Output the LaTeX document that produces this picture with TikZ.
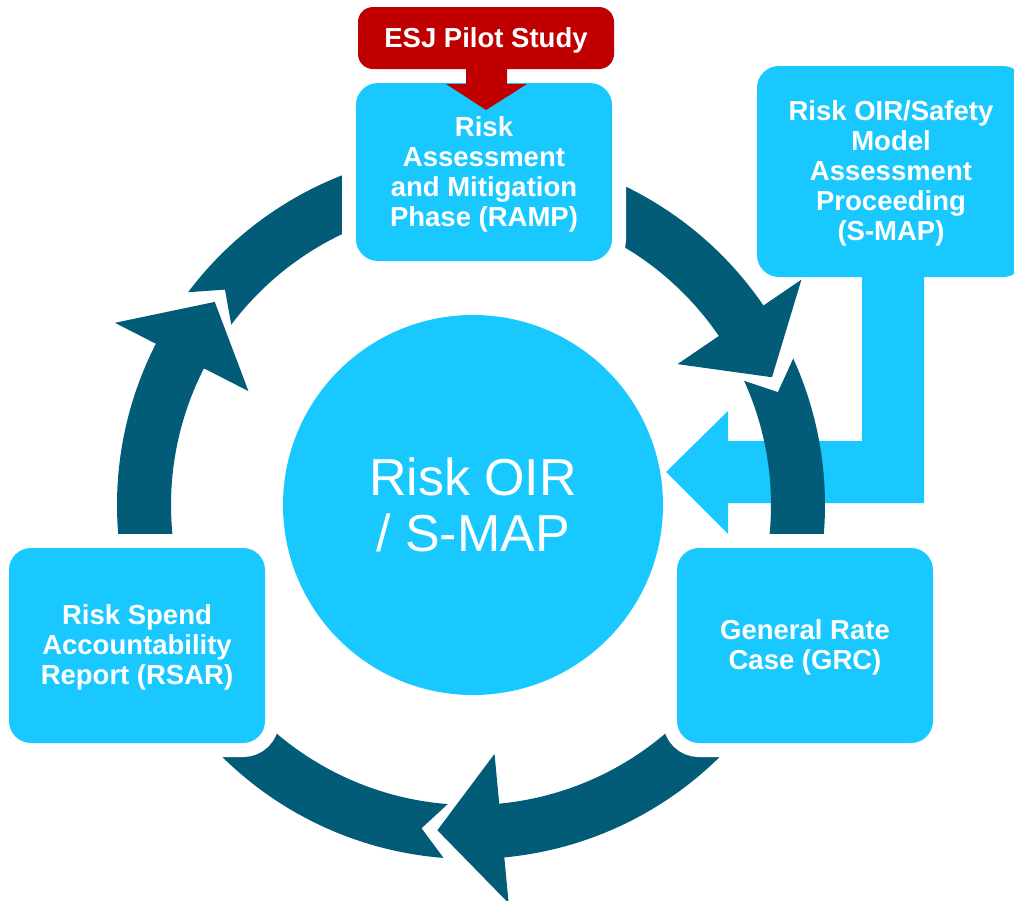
\documentclass[tikz,border=0pt]{standalone}
\usepackage{fontspec}
\setmainfont{Liberation Sans}
\definecolor{lblue}{RGB}{24,200,254}
\definecolor{dteal}{RGB}{2,92,120}
\definecolor{esjred}{RGB}{192,0,0}
\newcommand{\topstrut}{\rule{0pt}{24pt}}
\begin{document}
\begin{tikzpicture}[x=1pt,y=-1pt,
  boxtext/.style={text=white, align=center, font=\bfseries\fontsize{27.5}{30}\selectfont},
  bluebox/.style={rectangle, fill=lblue, rounded corners=22pt, inner sep=0pt, boxtext},
  whiteedge/.style={preaction={draw=white, line width=28pt}},
  ring/.style={fill=dteal}
]
\clip (0,0) rectangle (1014,900);
\useasboundingbox (0,0) rectangle (1014,900);

% S-MAP box
\node[bluebox, minimum width=268pt, minimum height=211pt] (smap) at (891,171.5)
  {\topstrut Risk OIR/Safety\\Model\\Assessment\\Proceeding\\(S-MAP)};

% light blue L-shaped arrow from S-MAP to the centre
\coordinate (ltip) at (666,472);
\fill[lblue] (862,270) -- (924,270) -- (924,503) -- (728,503) -- (728,534)
  -- (ltip) -- (728,411) -- (728,441) -- (862,441) -- cycle;

% ring of dark arrows
\begin{scope}[shift={(471,505)}, yscale=-1]
  % A: top right, arrow head
  \fill[ring] (80:354) arc[start angle=80, end angle=34.3, radius=354]
    -- (34.3:400) -- (23:327) -- (34.3:250) -- (34.3:300)
    arc[start angle=34.3, end angle=80, radius=300] -- cycle;
  % B: right, notched tail
  \fill[ring] (24.45:354) -- (20.2:327) -- (24.45:300)
    arc[start angle=24.45, end angle=-15, radius=300] -- (-15:354)
    arc[start angle=-15, end angle=24.45, radius=354] -- cycle;
  % C: bottom, arrow head
  \fill[ring] (-20:354) arc[start angle=-20, end angle=-84.6, radius=354]
    -- (-84.6:400) -- (-95.9:327) -- (-84.6:250) -- (-84.6:300)
    arc[start angle=-84.6, end angle=-20, radius=300] -- cycle;
  % D: bottom left, notched tail
  \fill[ring] (-94.45:354) -- (-98.7:327) -- (-94.45:300)
    arc[start angle=-94.45, end angle=-160, radius=300] -- (-160:354)
    arc[start angle=-160, end angle=-94.45, radius=354] -- cycle;
  % E: left, arrow head
  \fill[ring] (195:354) arc[start angle=195, end angle=152.9, radius=354]
    -- (152.9:400) -- (141.6:327) -- (152.9:250) -- (152.9:300)
    arc[start angle=152.9, end angle=195, radius=300] -- cycle;
  % F: top left, notched tail
  \fill[ring] (143.05:354) -- (138.8:327) -- (143.05:300)
    arc[start angle=143.05, end angle=100, radius=300] -- (100:354)
    arc[start angle=100, end angle=143.05, radius=354] -- cycle;
\end{scope}

% central circle
\node[circle, fill=lblue, minimum size=380pt, inner sep=0pt, text=white, align=center,
  font=\fontsize{52}{56}\selectfont] (core) at (473,505) {Risk OIR\\/ S-MAP};

% stage boxes
\node[bluebox, whiteedge, minimum width=256pt, minimum height=178pt] (ramp) at (484,172)
  {\topstrut Risk\\Assessment\\and Mitigation\\Phase (RAMP)};
\node[bluebox, whiteedge, minimum width=256pt, minimum height=195pt] (grc) at (805,645.5)
  {\topstrut General Rate\\Case (GRC)};
\node[bluebox, whiteedge, minimum width=256pt, minimum height=195pt] (rsar) at (137,645.5)
  {\topstrut Risk Spend\\Accountability\\Report (RSAR)};

% ESJ pilot study with red arrow
\coordinate (etip) at (486,110);
\fill[esjred] (466,60) -- (507,60) -- (507,84) -- (527,84) -- (etip) -- (446,84) -- (466,84) -- cycle;
\node[rectangle, fill=esjred, rounded corners=15pt, inner sep=0pt, boxtext,
  minimum width=256pt, minimum height=62pt] (esj) at (486,38) {\topstrut ESJ Pilot Study};
\end{tikzpicture}
\end{document}
